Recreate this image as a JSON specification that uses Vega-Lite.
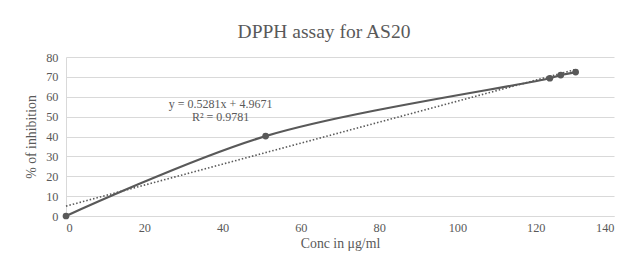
{
  "$schema": "https://vega.github.io/schema/vega-lite/v6.json",
  "autosize": {"type": "none"},
  "width": 548,
  "height": 159,
  "padding": {"left": 66, "top": 57, "right": 17, "bottom": 51},
  "background": "white",
  "title": {"text": "DPPH assay for AS20", "font": "Liberation Serif", "fontSize": 19.5, "fontWeight": "normal", "color": "#595959", "offset": 9, "anchor": "middle", "dx": -16},
  "config": {
    "view": {"stroke": null},
    "axis": {"labelFont": "Liberation Serif", "titleFont": "Liberation Serif", "labelColor": "#595959", "titleColor": "#595959", "labelFontSize": 12.3, "titleFontSize": 13.8, "titleFontWeight": "normal", "gridColor": "#d9d9d9", "gridOpacity": 1, "gridWidth": 1, "domainColor": "#d9d9d9", "ticks": false, "labelOverlap": false}
  },
  "datasets": {
    "obs": [
      {"conc": 0, "inh": 0},
      {"conc": 51, "inh": 40.2},
      {"conc": 123.6, "inh": 69.3},
      {"conc": 126.4, "inh": 70.9},
      {"conc": 130.2, "inh": 72.4}
    ],
    "trend": [
      {"conc": 0, "inh": 4.967},
      {"conc": 130.2, "inh": 73.73}
    ],
    "ann": [
      {"conc": 39.5, "inh": 56.6, "label": "y = 0.5281x + 4.9671"},
      {"conc": 39.5, "inh": 50.0, "label": "R² = 0.9781"}
    ]
  },
  "encoding": {
    "x": {"field": "conc", "type": "quantitative", "scale": {"domain": [0, 140]}, "axis": {"title": "Conc in μg/ml", "values": [0, 20, 40, 60, 80, 100, 120, 140], "grid": false, "labelPadding": 5, "titlePadding": 3}},
    "y": {"field": "inh", "type": "quantitative", "scale": {"domain": [0, 80]}, "axis": {"title": "% of inhibition", "values": [0, 10, 20, 30, 40, 50, 60, 70, 80], "tickCount": 9, "grid": true, "labelPadding": 8, "titlePadding": 7}}
  },
  "layer": [
    {
      "data": {"name": "trend"},
      "mark": {"type": "line", "color": "#595959", "strokeWidth": 1.6, "strokeDash": [1.5, 2]}
    },
    {
      "data": {"name": "obs"},
      "mark": {"type": "line", "color": "#595959", "strokeWidth": 2.2, "interpolate": "catmull-rom"}
    },
    {
      "data": {"name": "obs"},
      "mark": {"type": "point", "filled": true, "color": "#595959", "size": 45, "opacity": 1}
    },
    {
      "data": {"name": "ann"},
      "mark": {"type": "text", "font": "Liberation Serif", "fontSize": 12, "color": "#595959", "align": "center", "baseline": "middle"},
      "encoding": {"text": {"field": "label"}}
    }
  ]
}
